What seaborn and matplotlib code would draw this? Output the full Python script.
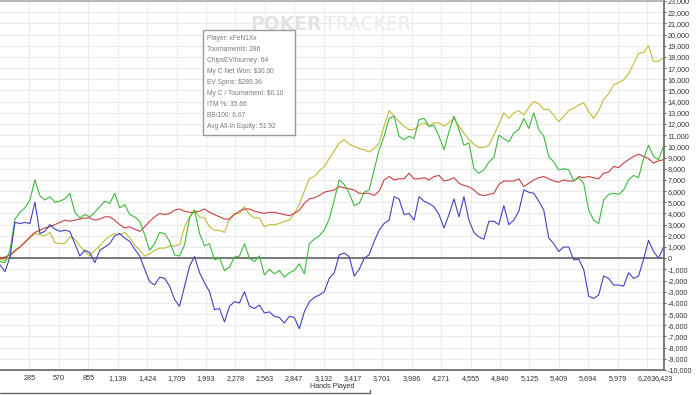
import matplotlib
matplotlib.use("Agg")
import matplotlib.pyplot as plt
import seaborn as sns
import numpy as np
import pandas as pd
from matplotlib.lines import Line2D
from matplotlib.patches import Rectangle

# ==========================================
# Data read off the PokerTracker graph (chips, sampled every ~48 hands)
# ==========================================
TOTAL_HANDS = 6423

net_won = [
    -300, -400, 700, 3500, 4100, 4500, 5200, 7000, 5600, 5200,
    5500, 5000, 5100, 5300, 5800, 4100, 3600, 3900, 3700, 4100,
    4600, 5100, 4900, 5800, 4500, 4800, 3900, 3700, 3300, 2100,
    700, 1300, 2300, 2200, 1500, 300, 200, 1200, 3600, 4300,
    2200, 1100, 1300, -150, 0, -1100, -800, 100, 200, 1300,
    0, -300, 200, -1500, -1000, -1400, -1100, -1700, -1300, -1100,
    -500, -1400, 1300, 1700, 2000, 2500, 3500, 5200, 7000, 6600,
    5800, 4700, 4900, 5900, 6100, 7900, 9700, 10900, 12500, 12700,
    10900, 10600, 10900, 10700, 12400, 12500, 11800, 11900, 10900, 9700,
    11300, 12700, 11500, 10100, 10300, 8000, 7600, 7900, 8600, 9000,
    11000, 10700, 10400, 11200, 11500, 12500, 11600, 13000, 11500, 10900,
    9100, 8600, 7900, 8000, 7900, 6900, 7200, 6700, 4300, 3400,
    3100, 5200, 5700, 5800, 5700, 6100, 7000, 7400, 7200, 8900,
    10100, 9100, 8800, 10000,
]

non_showdown = [
    0, 100, 300, 700, 1000, 1400, 1900, 2300, 2500, 2700,
    2800, 3000, 3200, 3400, 3300, 3400, 3500, 3600, 3600, 3400,
    3500, 3700, 3700, 3400, 3000, 2700, 2800, 2600, 2400, 2800,
    3300, 3700, 4000, 3900, 4000, 4300, 4400, 4200, 4100, 4100,
    4200, 4400, 4100, 3900, 3700, 3500, 3500, 3900, 4200, 4400,
    4400, 4200, 4100, 4000, 4100, 4100, 4000, 3900, 3800, 4000,
    4300, 4900, 5300, 5400, 5600, 5900, 6000, 6100, 6400, 6300,
    6200, 6100, 5800, 5800, 5800, 5600, 6000, 7000, 7300, 7000,
    7100, 7100, 7600, 7100, 7100, 7200, 7000, 7300, 7400, 6900,
    7000, 7200, 6700, 6500, 6400, 6100, 5700, 5600, 5700, 5800,
    6600, 6900, 6900, 6900, 7100, 6400, 6700, 7000, 7200, 7300,
    7100, 6900, 6800, 7000, 6900, 6900, 7300, 7200, 7300, 7200,
    7100, 7600, 7700, 8200, 8100, 8500, 8800, 9100, 9300, 9100,
    8900, 8500, 8700, 8800,
]

allin_ev = [
    -100, -200, 150, 600, 1000, 1500, 1800, 2200, 2100, 2000,
    2300, 1400, 1300, 1300, 1900, 1700, 1100, 600, 200, 700,
    1100, 1600, 2000, 2200, 2100, 2300, 1800, 1200, 700, 200,
    400, 700, 900, 900, 1100, 1100, 1200, 2800, 3700, 4300,
    3700, 3600, 2800, 2500, 2500, 2300, 3500, 4000, 4000, 4600,
    3900, 3600, 3600, 2800, 3000, 3000, 3100, 3300, 3400, 4000,
    4800, 6000, 7100, 7300, 7800, 8200, 8900, 9600, 10300, 10600,
    10200, 10000, 9800, 9700, 9500, 9800, 10300, 11800, 13200, 12700,
    12200, 11800, 11500, 11500, 11900, 12100, 11800, 12100, 12100, 11800,
    12100, 12500, 11800, 11200, 10600, 10200, 9900, 9900, 10100, 11000,
    12000, 13000, 12500, 13000, 13200, 12800, 13500, 14000, 13800, 13300,
    13300, 12800, 12200, 12700, 13200, 13400, 13700, 13900, 13100, 12500,
    13200, 14200, 14700, 15500, 15700, 15950, 16500, 17400, 18300, 18400,
    19000, 17600, 17600, 17900,
]

showdown = [
    -600, -1200, 100, 3200, 3100, 3200, 3100, 5000, 2200, 2400,
    3000, 2600, 2400, 2500, 2400, 1300, 200, 700, 500, -400,
    700, 1000, 1300, 2000, 2200, 1800, 1500, 800, 200, -1000,
    -2100, -2400, -1700, -1800, -2500, -3700, -4300, -2500, -700, 150,
    -1300, -2200, -3000, -4600, -4500, -5700, -4300, -3900, -4000, -3000,
    -4300, -4500, -4200, -4900, -4800, -5200, -5300, -5800, -5200, -5300,
    -6300, -4800, -3900, -3500, -3300, -3000, -1800, -1300, 300, 450,
    150, -1600, -1000, 0, 300, 1500, 2500, 3100, 3400, 5500,
    5300, 3900, 4000, 3400, 5500, 5100, 4900, 4600, 3900, 2700,
    3900, 5300, 3700, 5500, 3400, 2300, 1900, 1700, 3300, 3300,
    3000, 4700, 3000, 3400, 4200, 6100, 5900, 5800, 5100, 4300,
    1800, 1300, 600, 1000, 1000, -150, -100, -1000, -3400, -3600,
    -3300, -1600, -1800, -2400, -2400, -2500, -1300, -1800, -1600, -100,
    1600, 600, 0, 1000,
]

x_ticks = [285, 570, 855, 1139, 1424, 1709, 1993, 2278, 2563, 2847, 3132, 3417,
           3701, 3986, 4271, 4555, 4840, 5125, 5409, 5694, 5979, 6263, 6423]
y_ticks = list(range(-10000, 23001, 1000))

stats_lines = [
    "Player: xFeN1Xx",
    "Tournaments: 286",
    "ChipsEV/tourney: 64",
    "My C Net Won: $30.00",
    "EV Spins: $289.36",
    "My C / Tournament: $0.10",
    "ITM %: 35.66",
    "BB/100: 6.67",
    "Avg All-In Equity: 51.92",
]

series = {
    "All-In EV": allin_ev,
    "Non-Showdown": non_showdown,
    "Net Won": net_won,
    "Showdown": showdown,
}
palette = {
    "All-In EV": "#c4ba36",
    "Non-Showdown": "#c94040",
    "Net Won": "#3dba3d",
    "Showdown": "#4242c0",
}

frames = []
for name, vals in series.items():
    hands = np.linspace(0, TOTAL_HANDS, len(vals))
    frames.append(pd.DataFrame({"hands": hands, "chips": vals, "line": name}))
df = pd.concat(frames, ignore_index=True)

# ==========================================
# Plot
# ==========================================
sns.set_style("white")
plt.rcParams['font.family'] = ['Liberation Sans', 'DejaVu Sans']

W, H = 700, 395
fig = plt.figure(figsize=(7, 3.95), dpi=100)
ax = fig.add_axes([0, 25 / H, 663.5 / W, 369 / H])

ax.axhline(0, color="#555555", lw=1.1, zorder=1.5)
sns.lineplot(data=df, x="hands", y="chips", hue="line", hue_order=list(series.keys()),
             palette=palette, linewidth=0.8, legend=False, estimator=None, sort=False, ax=ax)

ax.set_xlim(0, TOTAL_HANDS)
ax.set_ylim(-10000, 23000)
ax.set_xticks(x_ticks)
ax.set_xticklabels([f"{v:,}" for v in x_ticks])
ax.set_yticks(y_ticks)
ax.set_yticklabels([f"{v:,}" for v in y_ticks])
ax.yaxis.tick_right()
ax.set_xlabel("")
ax.set_ylabel("")

ax.grid(True, color="#ececec", lw=0.8)
ax.set_axisbelow(True)
ax.tick_params(axis="both", labelsize=5.2, labelcolor="#333333", color="#666666",
               length=1.6, width=0.8, pad=1.2)
ax.tick_params(axis="x", pad=1.8)

ax.spines["left"].set_visible(False)
ax.spines["top"].set_color("#aaaaaa")
ax.spines["top"].set_linewidth(1.2)
for side in ["right", "bottom"]:
    ax.spines[side].set_color("#707070")
    ax.spines[side].set_linewidth(1.3)

# watermark
fig.text(250 / W, 1 - 30 / H, "POKER", fontsize=13.5, fontweight="bold", color="#e3e3e3",
         family="DejaVu Sans", va="baseline", zorder=0)
fig.text(324 / W, 1 - 30 / H, "TRACKER", fontsize=13.5, color="#ebebeb",
         family="DejaVu Sans", va="baseline", zorder=0)

# stats box
fig.add_artist(Rectangle((203 / W, 1 - 135 / H), 92 / W, 105 / H, transform=fig.transFigure,
                         facecolor="white", edgecolor="#9a9a9a", lw=1.0))
for i, line in enumerate(stats_lines):
    fig.text(207 / W, 1 - (38.5 + 11.0 * i) / H, line, fontsize=4.8, color="#7a7a7a",
             va="center", ha="left")

fig.text(331.7 / W, 1 - 387 / H, "Hands Played", ha="center", va="center",
         fontsize=5.1, color="#333333")

# frame line along the bottom
fig.add_artist(Line2D([0, 370 / W], [1 - 393 / H, 1 - 393 / H], transform=fig.transFigure,
                      color="#666666", lw=1.0))
fig.add_artist(Line2D([370 / W, 370 / W], [1 - 393 / H, 1 - 390 / H], transform=fig.transFigure,
                      color="#666666", lw=1.0))

fig.savefig("out.png", dpi=100)
